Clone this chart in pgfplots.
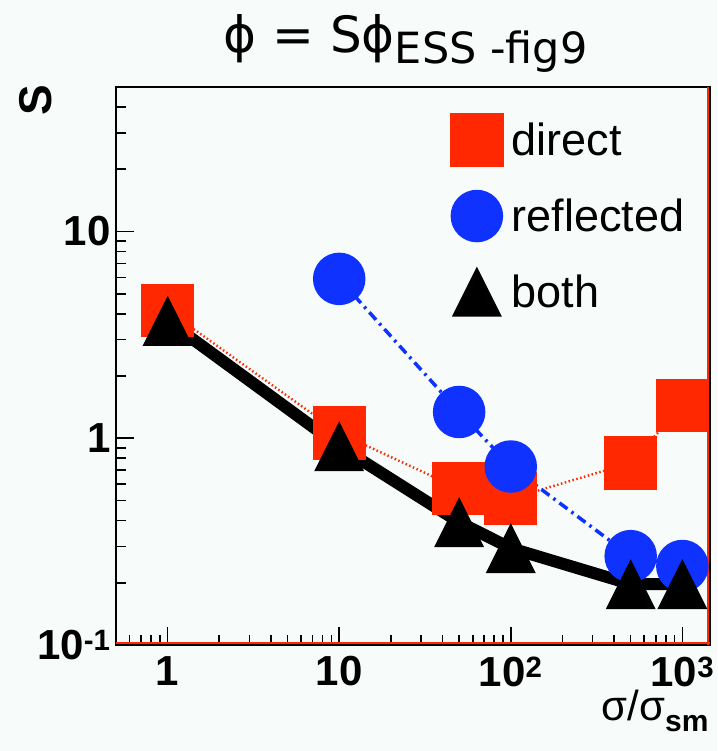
\documentclass[border=0pt]{standalone}
\usepackage{fontspec}
\setmainfont{Liberation Sans}
\newfontfamily\titlefont{DejaVu Sans}
\usepackage{pgfplots}
\pgfplotsset{compat=1.18}

\definecolor{bgcol}{RGB}{247,252,250}
\definecolor{rootred}{RGB}{255,40,0}
\definecolor{rootblue}{RGB}{15,50,255}

% ROOT-style up triangle: as wide as it is tall, centred at mid-height
\pgfdeclareplotmark{roottri}{%
  \pgfpathmoveto{\pgfqpoint{-\pgfplotmarksize}{-\pgfplotmarksize}}%
  \pgfpathlineto{\pgfqpoint{\pgfplotmarksize}{-\pgfplotmarksize}}%
  \pgfpathlineto{\pgfqpoint{0pt}{\pgfplotmarksize}}%
  \pgfpathclose
  \pgfusepathqfill}

\begin{document}
\begin{tikzpicture}
\path[use as bounding box, fill=bgcol] (0,0) rectangle (717pt,751pt);

% title
\node[font=\titlefont\fontsize{50}{50}\selectfont, anchor=base west] at (220pt,698pt)
  {ϕ = Sϕ\raisebox{-11pt}{\fontsize{43}{43}\selectfont ESS -fig9}};

\begin{axis}[
  at={(116pt,106pt)}, anchor=south west,
  scale only axis, width=594pt, height=558pt,
  xmode=log, ymode=log,
  xmin=0.5, xmax=1450, ymin=0.1, ymax=50,
  axis line style={line width=1.6pt},
  tick align=inside, xtick pos=left, ytick pos=left,
  major tick length=18pt, minor tick length=10pt,
  every tick/.style={black, line width=1.6pt},
  xtick={1,10,100,1000},
  xticklabels={1,10,10\textsuperscript{2},10\textsuperscript{3}},
  minor xtick={0.6,0.7,0.8,0.9,2,3,4,5,6,7,8,9,20,30,40,50,60,70,80,90,200,300,400,500,600,700,800,900},
  ytick={0.1,1,10},
  yticklabels={10\textsuperscript{-1},1,10},
  minor ytick={0.2,0.3,0.4,0.5,0.6,0.7,0.8,0.9,2,3,4,5,6,7,8,9,20,30,40},
  ticklabel style={font=\bfseries\fontsize{42}{42}\selectfont},
  xticklabel style={yshift=-8pt},
  yticklabel style={xshift=-2pt},
  legend style={at={(rel axis cs:0.555,0.951)}, anchor=north west,
    draw=none, fill=none, font=\fontsize{45}{45}\selectfont,
    row sep=26pt, cells={anchor=west}, inner sep=0pt},
  legend image code/.code={\draw[#1] plot coordinates {(0pt,0pt)};
    \path (-25pt,0pt) (27pt,0pt);},
]
% red inner edges of the frame on the right and bottom
\draw[rootred, line width=2.6pt, yshift=2.2pt] (rel axis cs:0,0) -- (rel axis cs:1,0);
\draw[rootred, line width=2.6pt, xshift=-2.2pt] (rel axis cs:1,0) -- (rel axis cs:1,1);

\addplot[rootred, line width=2.4pt, dash pattern=on 1.5pt off 2.5pt, mark=square*, mark size=25.5pt,
  mark options={solid, fill=rootred, draw=none}]
  coordinates {(1,4.15) (10,1.06) (50,0.57) (100,0.51) (500,0.76) (1000,1.44)};
\addlegendentry{direct}

\addplot[rootblue, line width=3.5pt, dash pattern=on 10pt off 5pt on 2.5pt off 5pt,
  mark=*, mark size=24.5pt, mark options={solid, fill=rootblue, draw=none}]
  coordinates {(10,5.9) (50,1.34) (100,0.73) (500,0.269) (1000,0.241)};
\addlegendentry{reflected}

\addplot[black, line width=12pt, mark=roottri, mark size=25pt,
  mark options={solid, fill=black}]
  coordinates {(1,3.7) (10,0.915) (50,0.393) (100,0.294) (500,0.197) (1000,0.197)};
\addlegendentry{both}
\end{axis}

% axis titles
\node[font=\bfseries\fontsize{46}{46}\selectfont, rotate=90] at (36pt,651pt) {S};
\node[font=\fontsize{42}{42}\selectfont, anchor=base east] at (712pt,30pt)
  {σ/σ\raisebox{-10pt}{\bfseries\fontsize{30}{30}\selectfont sm}};
\end{tikzpicture}
\end{document}
